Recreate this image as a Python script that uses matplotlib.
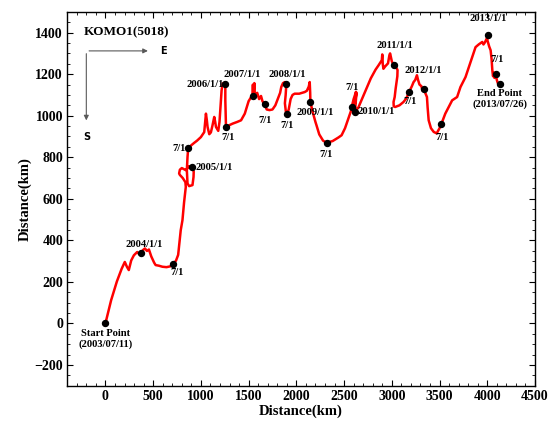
import matplotlib
matplotlib.use("Agg")
import matplotlib.pyplot as plt
from matplotlib.ticker import MultipleLocator

plt.rcParams['font.family'] = ['Liberation Serif', 'DejaVu Serif']
plt.rcParams['font.weight'] = 'bold'

# drifter track KOMO1(5018), eastward / southward distance from the start (km)
track_x = [0, 60, 120, 170, 203, 225, 245, 270, 298, 333, 355, 375, 395, 414, 435, 456,
           480, 510, 526, 560, 597, 640, 680, 709, 740, 762, 775, 789, 800, 807, 824, 835,
           842, 838, 810, 780, 772, 780, 800, 842, 877, 912, 925, 923, 912, 877, 860, 853,
           860, 867, 900, 929, 960, 1000, 1035, 1045, 1053, 1062, 1070, 1088, 1105, 1122,
           1140, 1150, 1158, 1182, 1195, 1203, 1217, 1228, 1245, 1256, 1256, 1260, 1263,
           1300, 1333, 1380, 1421, 1460, 1500, 1526, 1540, 1545, 1550, 1560, 1565, 1551,
           1575, 1590, 1610, 1630, 1645, 1667, 1690, 1719, 1750, 1780, 1807, 1830, 1842,
           1860, 1880, 1895, 1888, 1880, 1890, 1902, 1920, 1940, 1960, 1982, 2030, 2088,
           2110, 2130, 2140, 2145, 2147, 2170, 2200, 2211, 2240, 2280, 2316, 2380, 2440,
           2474, 2510, 2544, 2570, 2579, 2600, 2625, 2610, 2630, 2614, 2650, 2719, 2780,
           2830, 2860, 2895, 2900, 2905, 2912, 2930, 2960, 2975, 2982, 2990, 3000, 3018,
           3035, 3053, 3060, 3058, 3040, 3030, 3018, 3020, 3035, 3080, 3122, 3150, 3182,
           3210, 3228, 3245, 3263, 3275, 3290, 3310, 3320, 3333, 3345, 3350, 3368, 3375,
           3386, 3410, 3439, 3470, 3500, 3519, 3560, 3596, 3632, 3684, 3719, 3772, 3820,
           3877, 3910, 3947, 3960, 3975, 3990, 4011, 4000, 4020, 4035, 4045, 4053, 4060,
           4070, 4075, 4088, 4100, 4110, 4133]
track_y = [0, 112, 202, 263, 296, 273, 257, 303, 328, 344, 333, 340, 354, 361, 349, 356,
           323, 293, 281, 278, 273, 271, 275, 284, 303, 330, 385, 449, 480, 497, 583, 630,
           657, 680, 700, 715, 722, 740, 748, 738, 757, 753, 730, 705, 666, 661, 674, 738,
           801, 843, 858, 869, 880, 897, 921, 970, 1010, 980, 946, 911, 920, 954,
           994, 970, 946, 927, 970, 1027, 1122, 1155, 1158, 1151, 1074, 1000, 947,
           955, 962, 970, 978, 1010, 1070, 1090, 1100, 1150, 1095, 1157, 1100, 1096,
           1105, 1110, 1080, 1095, 1070, 1054, 1030, 1027, 1030, 1050, 1082, 1110, 1138,
           1157, 1162, 1151, 1100, 1060, 1020, 1009, 1030, 1080, 1100, 1106, 1106, 1114,
           1120, 1140, 1162, 1110, 1067, 1020, 970, 954, 910, 880, 870, 878, 895,
           906, 940, 986, 1020, 1040, 1080, 1115, 1050, 1110, 1019, 1040, 1114, 1180,
           1222, 1242, 1267, 1295, 1250, 1226, 1237, 1252, 1292, 1300, 1282, 1262, 1244,
           1237, 1226, 1220, 1190, 1130, 1090, 1066, 1045, 1042, 1050, 1066, 1082, 1115,
           1142, 1162, 1172, 1195, 1172, 1150, 1142, 1122, 1128, 1132, 1110, 1090, 1040,
           978, 940, 922, 915, 940, 960, 1010, 1042, 1074, 1090, 1138, 1186, 1252,
           1330, 1343, 1355, 1343, 1353, 1368, 1388, 1365, 1333, 1315, 1272, 1218, 1190,
           1207, 1182, 1199, 1172, 1157, 1151]

# dated positions along the track
mark_x = [0, 375, 709, 912, 867, 1256, 1263, 1551, 1667, 1895, 1902, 2147, 2316,
          2579, 2614, 3018, 3182, 3333, 3519, 4011, 4088, 4133]
mark_y = [0, 340, 284, 753, 843, 1151, 947, 1096, 1054, 1151, 1009, 1067, 870,
          1040, 1019, 1244, 1115, 1128, 960, 1388, 1199, 1151]
mark_labels = ["Start Point\n(2003/07/11)", "2004/1/1", "7/1", "2005/1/1", "7/1",
               "2006/1/1", "7/1", "2007/1/1", "7/1", "2008/1/1", "7/1", "2009/1/1",
               "7/1", "7/1", "2010/1/1", "2011/1/1", "7/1", "2012/1/1", "7/1",
               "2013/1/1", "7/1", "End Point\n(2013/07/26)"]
# label placement: (dx, dy) in pixels, ha, va
label_pos = [(0, -6, 'center', 'top'), (3, 4, 'center', 'bottom'), (4, -4, 'center', 'top'),
             (3, 0, 'left', 'center'), (-2, 0, 'right', 'center'), (-1, 0, 'right', 'center'),
             (2, -6, 'center', 'top'), (-11, 21, 'center', 'center'), (1, -16, 'center', 'center'),
             (1, 10, 'center', 'center'), (0, -12, 'center', 'center'), (5, -11, 'center', 'center'),
             (0, -12, 'center', 'center'), (0, 20, 'center', 'center'), (3, 0, 'left', 'center'),
             (1, 20, 'center', 'center'), (1, -10, 'center', 'center'), (0, 19, 'center', 'center'),
             (1, -13, 'center', 'center'), (0, 17, 'center', 'center'), (1, 15, 'center', 'center'),
             (0, -5, 'center', 'top')]

fig = plt.figure(figsize=(5.51, 4.23), dpi=100)
ax = fig.add_axes([0.122, 0.088, 0.849, 0.884])

ax.plot(track_x, track_y, color='red', lw=1.8, solid_joinstyle='round')
ax.plot(mark_x, mark_y, 'o', color='black', ms=4.3, zorder=3)

for x, y, s, (dx, dy, ha, va) in zip(mark_x, mark_y, mark_labels, label_pos):
    ax.annotate(s, (x, y), xytext=(dx, dy), textcoords='offset pixels',
                ha=ha, va=va, fontsize=7.6, fontweight='bold', linespacing=1.1)

ax.text(-232, 1402, "KOMO1(5018)", fontsize=9.5, fontweight='bold', va='center')
ax.annotate("", xy=(474, 1312), xytext=(-200, 1312),
            arrowprops=dict(arrowstyle='-|>', color='0.35', lw=0.8, mutation_scale=7))
ax.annotate("", xy=(-200, 964), xytext=(-200, 1312),
            arrowprops=dict(arrowstyle='-|>', color='0.35', lw=0.8, mutation_scale=7))
ax.text(568, 1310, "E", fontsize=7, fontweight='bold', family='DejaVu Sans', va='center')
ax.text(-190, 897, "S", fontsize=7, fontweight='bold', family='DejaVu Sans', va='center', ha='center')

ax.set_xlim(-400, 4500)
ax.set_ylim(-300, 1500)
ax.xaxis.set_major_locator(MultipleLocator(500))
ax.xaxis.set_minor_locator(MultipleLocator(100))
ax.yaxis.set_major_locator(MultipleLocator(200))
ax.yaxis.set_minor_locator(MultipleLocator(50))
ax.tick_params(which='both', direction='in', top=True, right=True, labelsize=10, pad=3)
ax.tick_params(which='major', length=4, width=0.8)
ax.tick_params(which='minor', length=2, width=0.6)
for lab in ax.get_xticklabels() + ax.get_yticklabels():
    lab.set_fontweight('bold')
for sp in ax.spines.values():
    sp.set_linewidth(1.0)

ax.set_xlabel("Distance(km)", fontsize=10.5, fontweight='bold', labelpad=1)
ax.set_ylabel("Distance(km)", fontsize=10.5, fontweight='bold', labelpad=2)

fig.savefig("out.png", dpi=100)
